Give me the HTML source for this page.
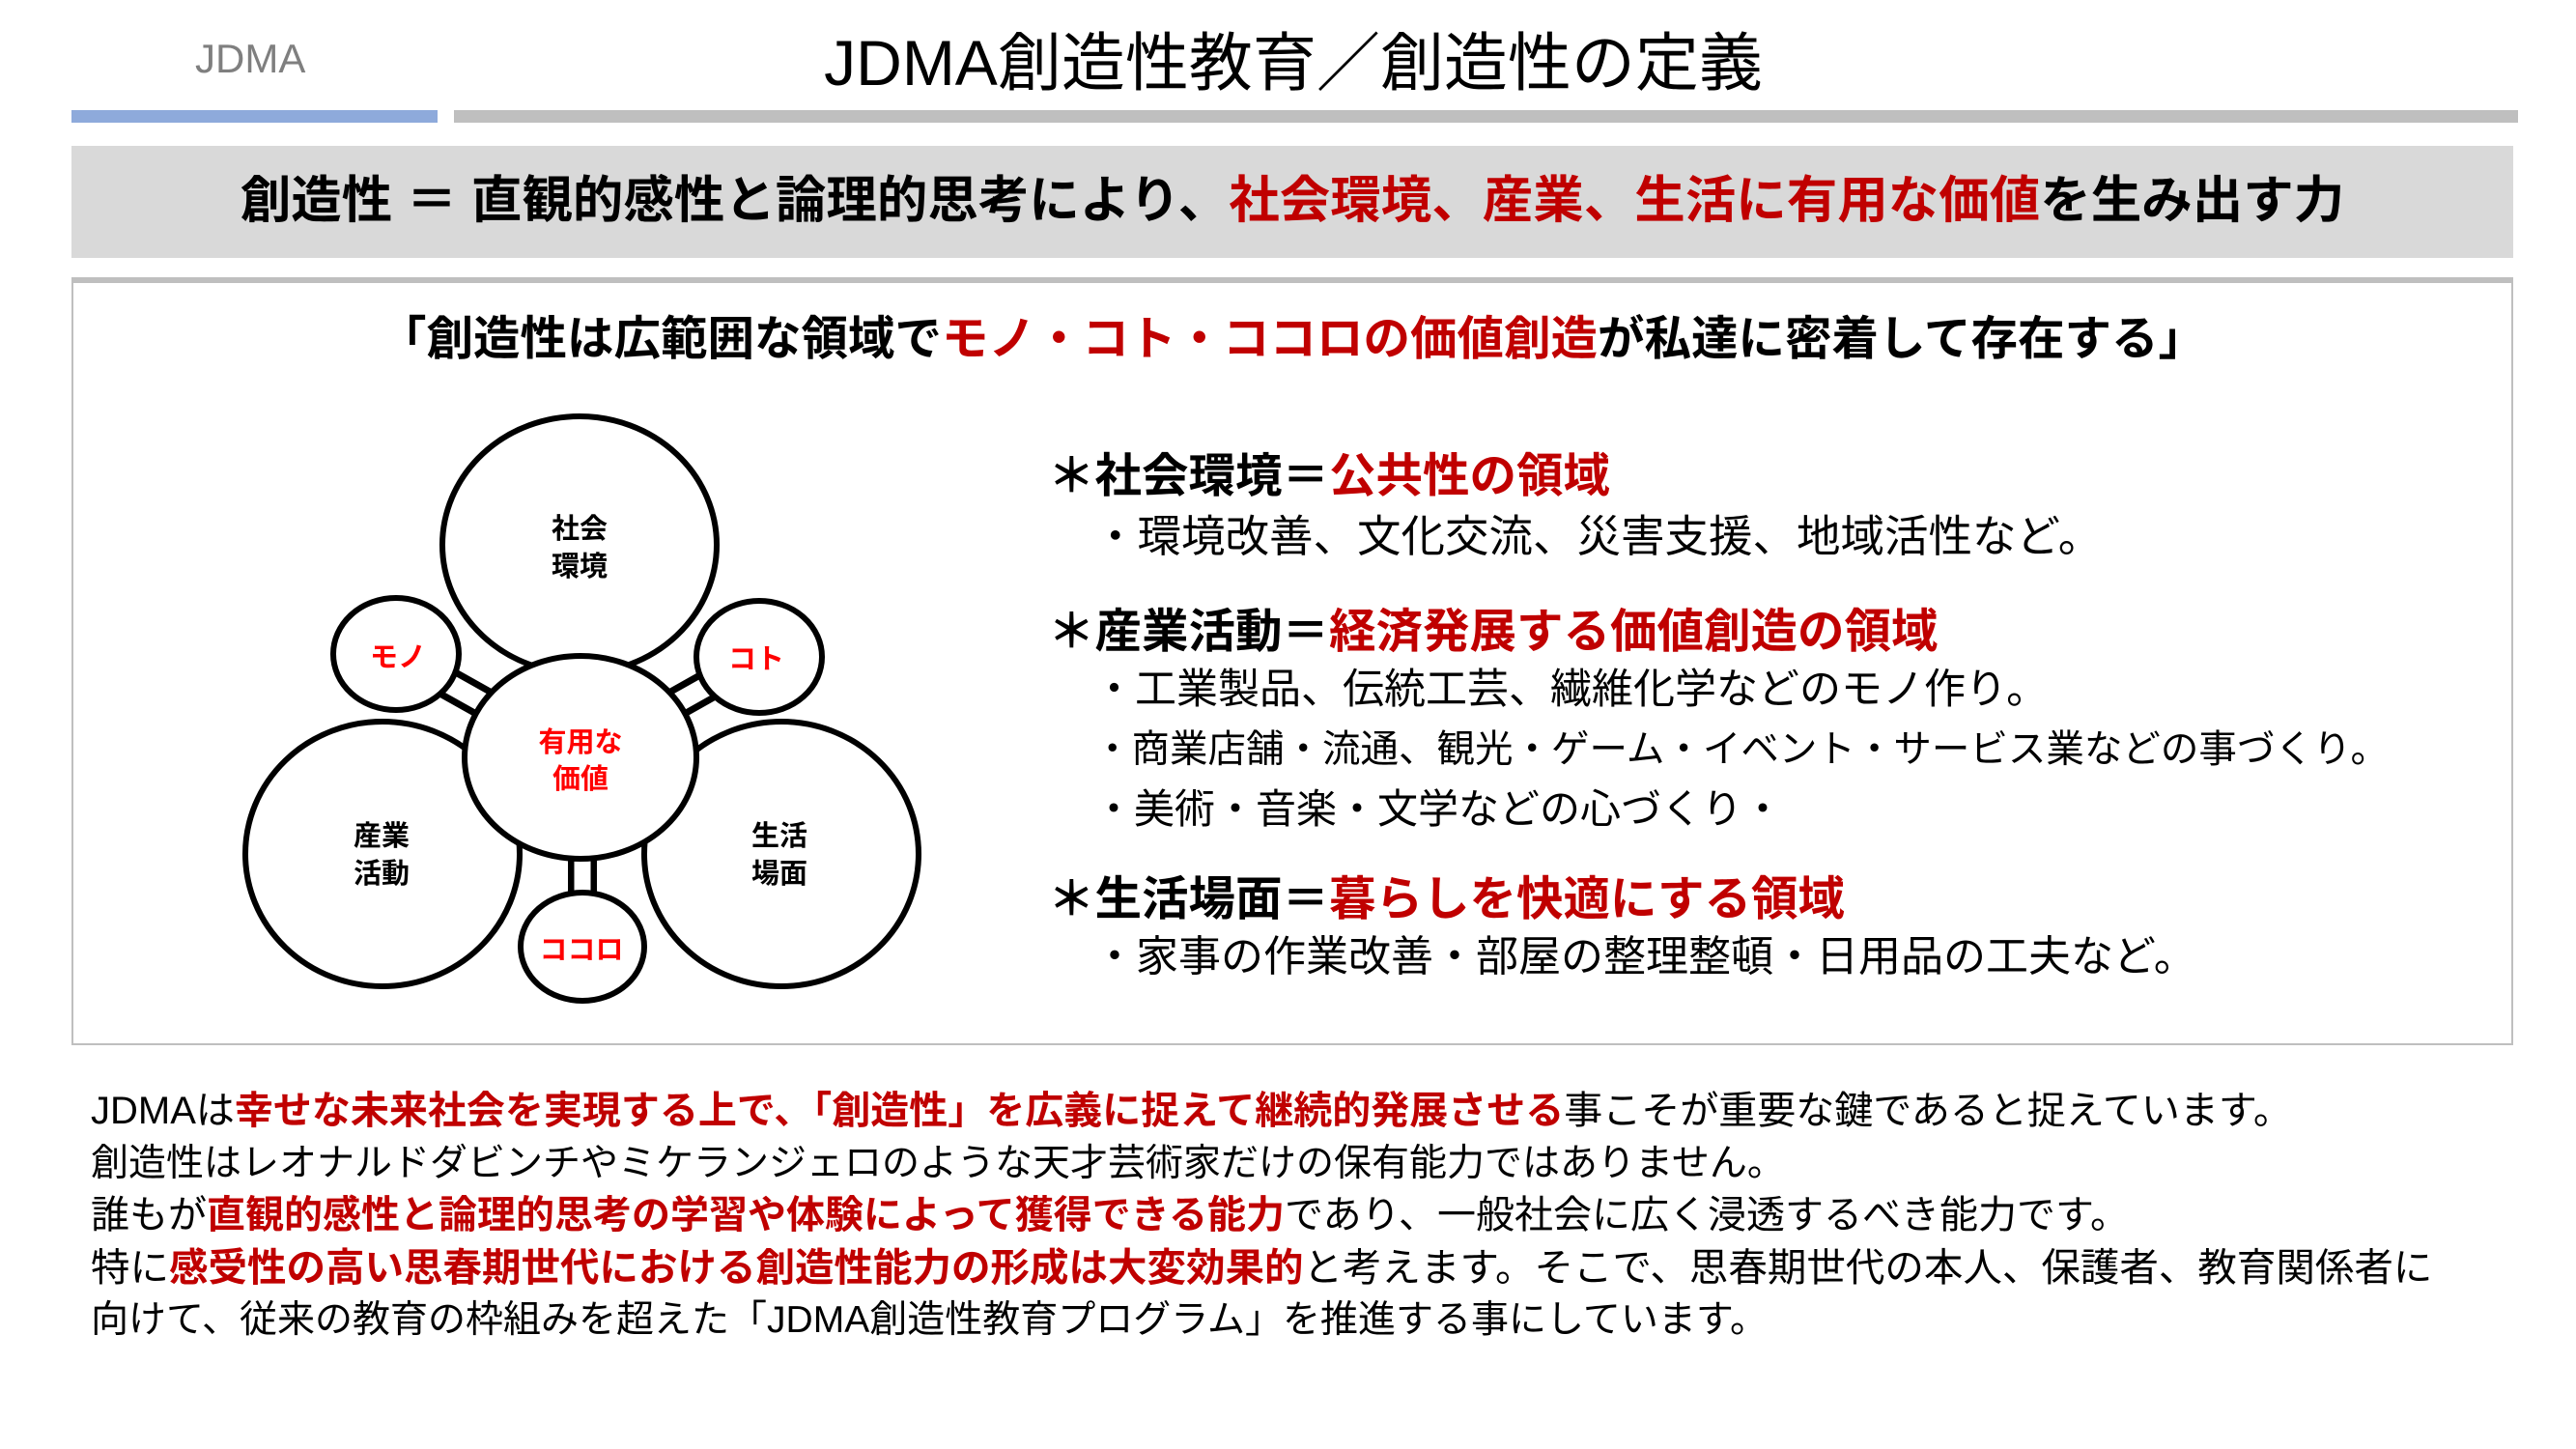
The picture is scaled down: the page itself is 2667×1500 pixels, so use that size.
<!DOCTYPE html>
<html><head><meta charset="utf-8">
<style>
html,body{margin:0;padding:0;background:#fff;}
body{width:2667px;height:1500px;position:relative;overflow:hidden;font-family:"Liberation Sans","Noto Sans CJK JP",sans-serif;color:#000;}
.a{position:absolute;white-space:nowrap;line-height:1;}
.r{color:#c00000;}
.b{font-weight:bold;}
</style></head><body>
<div class="a" style="left:202px;top:40px;font-size:42px;color:#7f7f7f;">JDMA</div>
<div class="a" style="left:0;width:2678px;text-align:center;top:32px;font-size:66px;">JDMA創造性教育／創造性の定義</div>
<div class="a" style="left:74px;top:114px;width:379px;height:13px;background:#8eaadb;"></div>
<div class="a" style="left:470px;top:114px;width:2137px;height:13px;background:#bfbfbf;"></div>

<div class="a" style="left:74px;top:151px;width:2528px;height:116px;background:#d9d9d9;"></div>
<div class="a b" style="left:74px;width:2528px;text-align:center;top:182px;font-size:52.5px;">創造性 ＝ 直観的感性と論理的思考により、<span class="r">社会環境、産業、生活に有用な価値</span>を生み出す力</div>

<div class="a" style="left:74px;top:287px;width:2524px;height:787px;border:2px solid #bfbfbf;border-top:6px solid #bfbfbf;"></div>
<div class="a b" style="left:74px;width:2528px;text-align:center;top:327px;font-size:48.5px;">「創造性は広範囲な領域で<span class="r">モノ・コト・ココロの価値創造</span>が私達に密着して存在する」</div>

<svg class="a" style="left:0;top:0;" width="1100" height="1100" viewBox="0 0 1100 1100">
<g stroke-linecap="butt">
<line x1="410" y1="677" x2="601" y2="784" stroke="#000" stroke-width="34"/>
<line x1="410" y1="677" x2="601" y2="784" stroke="#fff" stroke-width="20"/>
<line x1="786" y1="680" x2="601" y2="784" stroke="#000" stroke-width="34"/>
<line x1="786" y1="680" x2="601" y2="784" stroke="#fff" stroke-width="20"/>
<line x1="603" y1="870" x2="603" y2="980" stroke="#000" stroke-width="30"/>
<line x1="603" y1="870" x2="603" y2="980" stroke="#fff" stroke-width="17"/>
</g>
<g fill="#fff" stroke="#000" stroke-width="6">
<ellipse cx="600" cy="564" rx="142" ry="133"/>
<ellipse cx="396" cy="884" rx="142" ry="137"/>
<ellipse cx="809" cy="884" rx="142" ry="137"/>
<ellipse cx="410" cy="677" rx="65" ry="58"/>
<ellipse cx="786" cy="680" rx="65" ry="58"/>
<ellipse cx="603" cy="980" rx="64" ry="56"/>
<ellipse cx="601" cy="784" rx="120" ry="105"/>
</g>
<g font-family="Liberation Sans, Noto Sans CJK JP, sans-serif" font-weight="bold" font-size="29" text-anchor="middle">
<text x="600" y="557">社会</text><text x="600" y="596">環境</text>
<text x="395" y="875">産業</text><text x="395" y="914">活動</text>
<text x="807" y="875">生活</text><text x="807" y="914">場面</text>
<g fill="#ff0000">
<text x="601" y="778">有用な</text><text x="601" y="816">価値</text>
<text x="412" y="690">モノ</text>
<text x="783" y="692">コト</text>
<text x="602" y="993">ココロ</text>
</g>
</g>
</svg>

<div class="a b" style="left:1085px;top:469px;font-size:48.5px;">＊社会環境＝<span class="r">公共性の領域</span></div>
<div class="a" style="left:1132px;top:533px;font-size:45.5px;">・環境改善、文化交流、災害支援、地域活性など。</div>
<div class="a b" style="left:1085px;top:630px;font-size:48.5px;">＊産業活動＝<span class="r">経済発展する価値創造の領域</span></div>
<div class="a" style="left:1132px;top:693px;font-size:43px;">・工業製品、伝統工芸、繊維化学などのモノ作り。</div>
<div class="a" style="left:1132px;top:757px;font-size:39.5px;">・商業店舗・流通、観光・ゲーム・イベント・サービス業などの事づくり。</div>
<div class="a" style="left:1132px;top:817px;font-size:42px;">・美術・音楽・文学などの心づくり・</div>
<div class="a b" style="left:1085px;top:907px;font-size:48.5px;">＊生活場面＝<span class="r">暮らしを快適にする領域</span></div>
<div class="a" style="left:1132px;top:969px;font-size:44px;">・家事の作業改善・部屋の整理整頓・日用品の工夫など。</div>

<div class="a" style="left:94px;top:1130px;font-size:40px;">JDMAは<span class="r b">幸せな未来社会を実現する上で、「創造性」を広義に捉えて継続的発展させる</span>事こそが重要な鍵であると捉えています。</div>
<div class="a" style="left:94px;top:1185px;font-size:39px;">創造性はレオナルドダビンチやミケランジェロのような天才芸術家だけの保有能力ではありません。</div>
<div class="a" style="left:94px;top:1238px;font-size:40px;">誰もが<span class="r b">直観的感性と論理的思考の学習や体験によって獲得できる能力</span>であり、一般社会に広く浸透するべき能力です。</div>
<div class="a" style="left:94px;top:1292px;font-size:40.5px;">特に<span class="r b">感受性の高い思春期世代における創造性能力の形成は大変効果的</span>と考えます。そこで、思春期世代の本人、保護者、教育関係者に</div>
<div class="a" style="left:94px;top:1347px;font-size:39px;">向けて、従来の教育の枠組みを超えた「JDMA創造性教育プログラム」を推進する事にしています。</div>
</body></html>
